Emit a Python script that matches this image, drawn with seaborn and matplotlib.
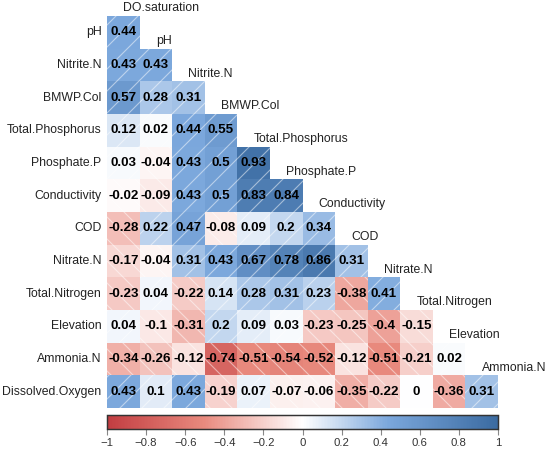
import numpy as np
import pandas as pd
import seaborn as sns
import matplotlib.pyplot as plt
from matplotlib.colors import LinearSegmentedColormap
from matplotlib.patches import Rectangle

# variable order (rows use 1:, columns use :-1)
variables = ["DO.saturation", "pH", "Nitrite.N", "BMWP.Col", "Total.Phosphorus",
             "Phosphate.P", "Conductivity", "COD", "Nitrate.N", "Total.Nitrogen",
             "Elevation", "Ammonia.N", "Dissolved.Oxygen"]

# lower triangle correlations, one list per row
r_ph = [0.44]
r_nitrite = [0.43, 0.43]
r_bmwp = [0.57, 0.28, 0.31]
r_tp = [0.12, 0.02, 0.44, 0.55]
r_phosphate = [0.03, -0.04, 0.43, 0.5, 0.93]
r_cond = [-0.02, -0.09, 0.43, 0.5, 0.83, 0.84]
r_cod = [-0.28, 0.22, 0.47, -0.08, 0.09, 0.2, 0.34]
r_nitrate = [-0.17, -0.04, 0.31, 0.43, 0.67, 0.78, 0.86, 0.31]
r_tn = [-0.23, 0.04, -0.22, 0.14, 0.28, 0.31, 0.23, -0.38, 0.41]
r_elev = [0.04, -0.1, -0.31, 0.2, 0.09, 0.03, -0.23, -0.25, -0.4, -0.15]
r_ammonia = [-0.34, -0.26, -0.12, -0.74, -0.51, -0.54, -0.52, -0.12, -0.51, -0.21, 0.02]
r_do = [0.43, 0.1, 0.43, -0.19, 0.07, -0.07, -0.06, -0.35, -0.22, 0, -0.36, 0.31]

cbar_ticks = [-1, -0.8, -0.6, -0.4, -0.2, 0, 0.2, 0.4, 0.6, 0.8, 1]

rows = [r_ph, r_nitrite, r_bmwp, r_tp, r_phosphate, r_cond, r_cod,
        r_nitrate, r_tn, r_elev, r_ammonia, r_do]

row_labels = variables[1:]
col_labels = variables[:-1]
n = len(rows)

mat = np.full((n, n), np.nan)
for i, r in enumerate(rows):
    mat[i, :len(r)] = r
corr = pd.DataFrame(mat, index=row_labels, columns=col_labels)
mask = np.isnan(mat)
annot = corr.apply(lambda c: c.map(lambda v: "" if np.isnan(v) else f"{v:g}"))

cmap = LinearSegmentedColormap.from_list(
    "rb", [(0.0, "#c23d41"), (0.25, "#e98b7f"), (0.5, "#ffffff"),
           (0.72, "#7ba7dc"), (1.0, "#3b6ba1")])

sns.set_style("white")
plt.rcParams['font.family'] = ['Liberation Sans', 'DejaVu Sans']
plt.rcParams['hatch.linewidth'] = 0.6

dpi = 132
fig = plt.figure(figsize=(550 / dpi, 453 / dpi), dpi=dpi)
W, H = 550, 453
ax = fig.add_axes([107 / W, 1 - 408 / H, 391 / W, 392 / H])
cax = fig.add_axes([107 / W, 1 - 429 / H, 391 / W, 14 / H])

sns.heatmap(corr, mask=mask, cmap=cmap, vmin=-1, vmax=1, center=0,
            annot=annot, fmt="", annot_kws={"color": "black", "fontsize": 7.3, "fontweight": "bold"},
            xticklabels=False, yticklabels=True, ax=ax, cbar_ax=cax,
            cbar_kws={"orientation": "horizontal"})

# diagonal hatching: "/" for positive, "\" for negative
for i, r in enumerate(rows):
    for j, v in enumerate(r):
        hatch = "//" if v >= 0 else "\\\\"
        ax.add_patch(Rectangle((j, i), 1, 1, facecolor="none",
                               edgecolor=(1, 1, 1, 0.5), linewidth=0, hatch=hatch))

# column names along the diagonal
for j, name in enumerate(col_labels):
    ax.text(j + 0.5, j - 0.05, name, ha="left", va="bottom",
            fontsize=6.7, color="#222222", clip_on=False)

ax.tick_params(axis="y", length=0, pad=3, labelsize=6.7, labelcolor="#222222")
plt.setp(ax.get_yticklabels(), rotation=0)

cax.set_xticks(cbar_ticks)
cax.set_xticklabels([f"{t:g}".replace("-", "\u2212") for t in cbar_ticks])
cax.tick_params(axis="x", length=3, width=0.6, color="#888888", labelsize=6.2, labelcolor="#333333", pad=2)
cbar = ax.collections[0].colorbar
cbar.outline.set_edgecolor("#333333")
cbar.outline.set_linewidth(0.8)

fig.savefig("out.png", dpi=dpi)
